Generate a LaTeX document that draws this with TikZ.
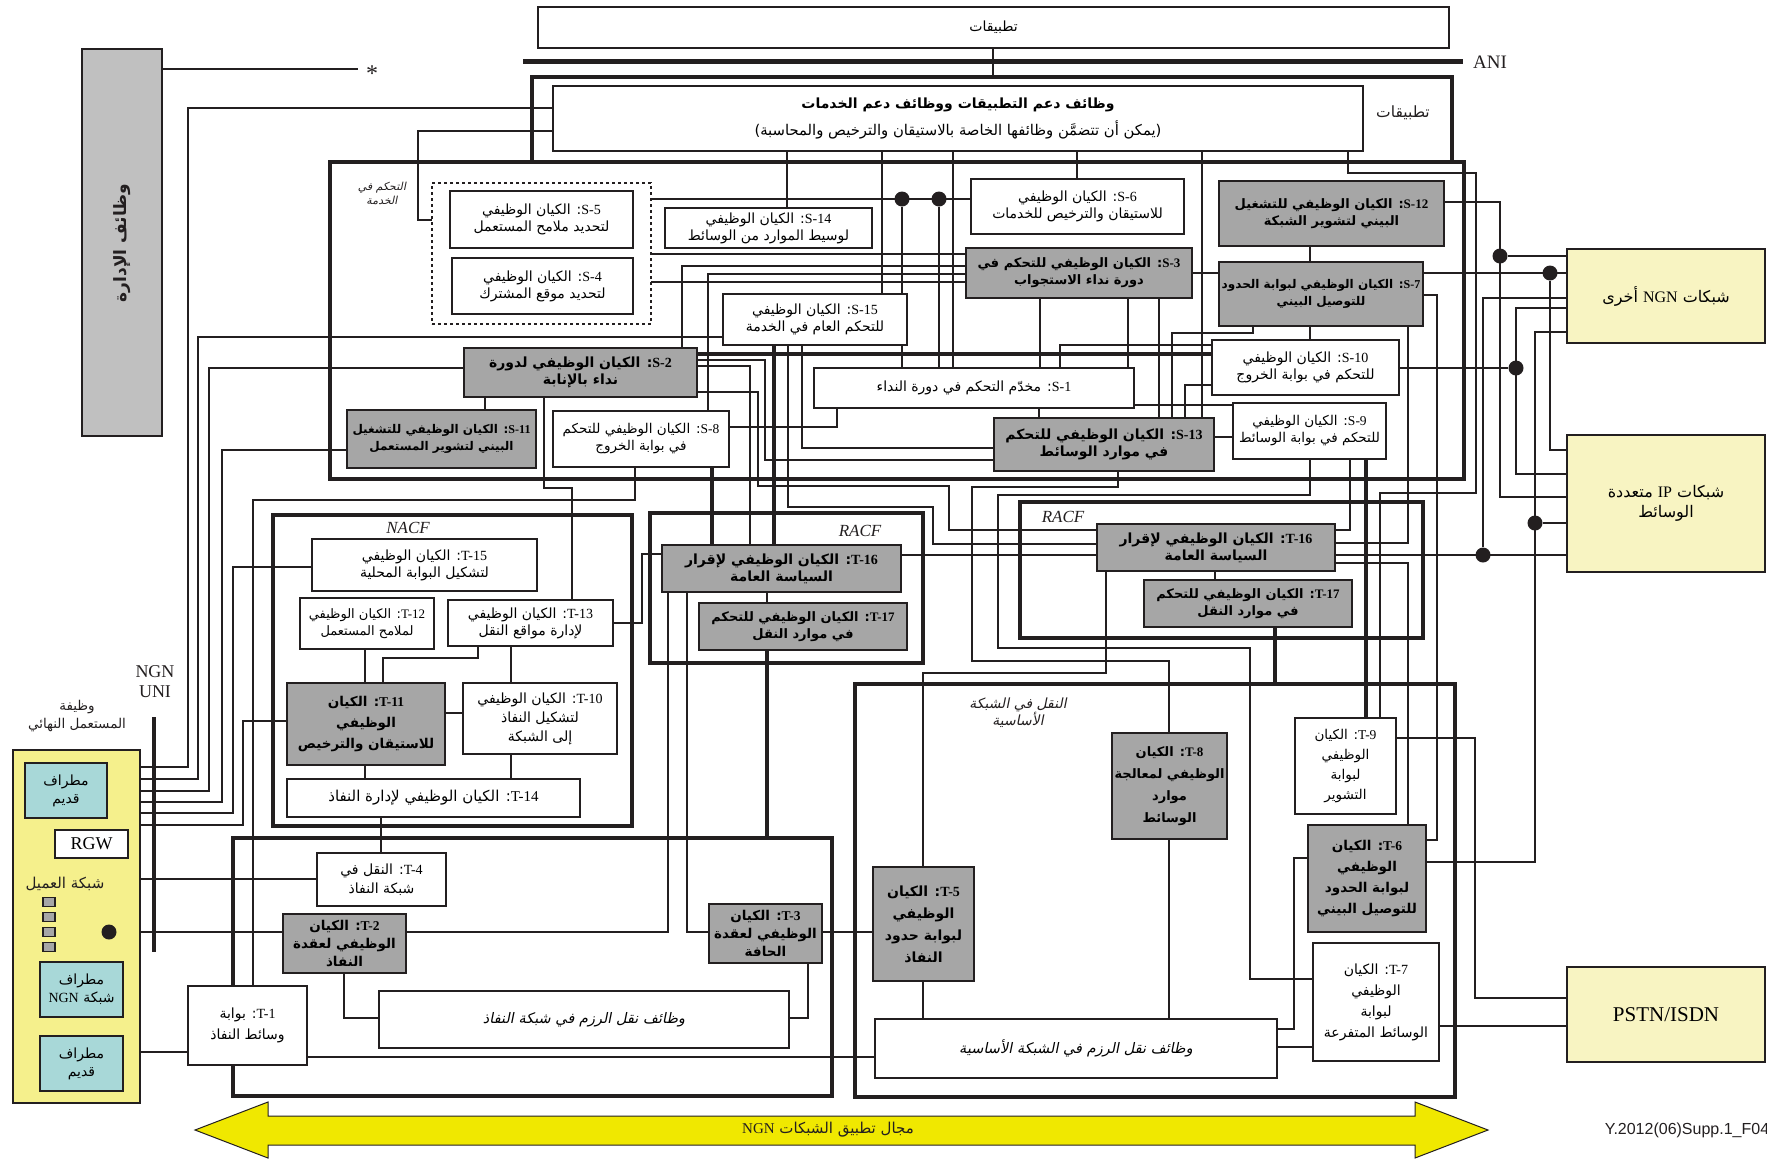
\documentclass[tikz,border=0pt]{standalone}
\usepackage{fontspec}
\setmainfont{Liberation Serif}
\newfontfamily\arabicfont[Script=Arabic]{DejaVu Sans}
\newfontfamily\arabicit[Script=Arabic,FakeSlant=0.2]{DejaVu Sans}
\newfontfamily\figfont{Liberation Sans}
\TeXXeTstate=1
\pgfdeclarelayer{strat}
\pgfdeclarelayer{wires}
\pgfsetlayers{strat,wires,main}
\definecolor{ink}{RGB}{35,31,32}
\definecolor{boxgray}{RGB}{166,166,166}
\definecolor{mgray}{RGB}{192,192,192}
\definecolor{termcyan}{RGB}{168,216,216}
\definecolor{euyel}{RGB}{245,240,140}
\definecolor{netyel}{RGB}{248,244,194}
\definecolor{arryel}{RGB}{240,232,0}
\newcommand\AR[1]{\beginR #1\endR}
\newcommand\LT[1]{\beginL{\rmfamily #1}\endL}
\newcommand\BX[7]{\node[#6, minimum width={#4-#2}, minimum height={#5-#3}] (#1) at ({(#2+#4)/2},{(#3+#5)/2}) {#7};}
\tikzset{
  wbox/.style={draw=ink, fill=white, line width=1.6pt, inner sep=0pt, outer sep=0pt, align=center,
    font=\arabicfont\fontsize{14}{17}\selectfont},
  gbox/.style={wbox, fill=boxgray, font=\arabicfont\bfseries\fontsize{13}{17}\selectfont},
  gtall/.style={wbox, fill=boxgray, font=\arabicfont\bfseries\fontsize{13.5}{21}\selectfont},
  wtall/.style={wbox, font=\arabicfont\fontsize{13.5}{20}\selectfont},
  itbox/.style={wbox, font=\arabicit\fontsize{14.5}{17}\selectfont},
  stratbox/.style={draw=ink, line width=4.5pt, inner sep=0pt, outer sep=0pt},
  termbox/.style={wbox, fill=termcyan, line width=2pt, font=\arabicfont\fontsize{14}{18}\selectfont},
  netbox/.style={wbox, fill=netyel, font=\arabicfont\fontsize{16}{20}\selectfont},
  conn/.style={draw=ink, line width=1.8pt},
  thk/.style={draw=ink, line width=3.6pt},
  jdot/.style={circle, fill=ink, minimum size=15pt, inner sep=0pt},
  sq/.style={draw=ink, fill=boxgray, line width=1.4pt, minimum width=12pt, minimum height=9pt, inner sep=0pt},
  lbl/.style={inner sep=0pt, text=ink},
}
\begin{document}
\begin{tikzpicture}[x=1pt,y=-1pt]
\useasboundingbox (0,0) rectangle (1767,1160);
% ---------- boxes (main layer) ----------
\BX{apps}{538}{7}{1449}{48}{wbox}{\AR{تطبيقات}}
\node[lbl, font=\fontsize{19}{22}\selectfont] (ani) at (1490,62) {ANI};
\coordinate (aniS) at (523,61);
\coordinate (aniE) at (1463,61);
\BX{mgmt}{82}{49}{162}{436}{wbox, fill=mgray}{}
\node[lbl, rotate=90, font=\arabicfont\bfseries\fontsize{17}{20}\selectfont] (mgmtlbl) at (122,243) {\AR{وظائف الإدارة}};
\node[lbl, font=\fontsize{24}{26}\selectfont] (star) at (372,74) {*};
\BX{asf}{553}{86}{1363}{151}{wbox, font=\arabicfont\fontsize{14.8}{27}\selectfont}{\AR{\bfseries\fontsize{14}{27}\selectfont وظائف دعم التطبيقات ووظائف دعم الخدمات}\\\AR{(يمكن أن تتضمَّن وظائفها الخاصة بالاستيقان والترخيص والمحاسبة)}}
\node[lbl, font=\arabicfont\fontsize{15.5}{18}\selectfont] (appllbl) at (1403,113) {\AR{تطبيقات}};
\node[lbl, align=center, font=\arabicit\fontsize{11}{14}\selectfont] (svclbl) at (382,193) {\AR{التحكم في}\\\AR{الخدمة}};
% service stratum
\BX{s5}{450}{191}{633}{248}{wbox}{\AR{\LT{S-5}: الكيان الوظيفي}\\\AR{لتحديد ملامح المستعمل}}
\BX{s4}{452}{258}{633}{314}{wbox}{\AR{\LT{S-4}: الكيان الوظيفي}\\\AR{لتحديد موقع المشترك}}
\BX{s14}{665}{208}{872}{248}{wbox}{\AR{\LT{S-14}: الكيان الوظيفي}\\\AR{لوسيط الموارد من الوسائط}}
\BX{s15}{723}{294}{907}{345}{wbox}{\AR{\LT{S-15}: الكيان الوظيفي}\\\AR{للتحكم العام في الخدمة}}
\BX{s2}{464}{348}{697}{397}{gbox, font=\arabicfont\bfseries\fontsize{14}{17}\selectfont}{\AR{\LT{S-2}: الكيان الوظيفي لدورة}\\\AR{نداء بالإنابة}}
\BX{s6}{971}{179}{1184}{234}{wbox}{\AR{\LT{S-6}: الكيان الوظيفي}\\\AR{للاستيقان والترخيص للخدمات}}
\BX{s3}{966}{248}{1192}{298}{gbox}{\AR{\LT{S-3}: الكيان الوظيفي للتحكم في}\\\AR{دورة نداء الاستجواب}}
\BX{s12}{1219}{181}{1444}{246}{gbox}{\AR{\LT{S-12}: الكيان الوظيفي للتشغيل}\\\AR{البيني لتشوير الشبكة}}
\BX{s7}{1219}{262}{1423}{326}{gbox, font=\arabicfont\bfseries\fontsize{12}{17}\selectfont}{\AR{\LT{S-7}: الكيان الوظيفي لبوابة الحدود}\\\AR{للتوصيل البيني}}
\BX{s10}{1212}{340}{1399}{395}{wbox}{\AR{\LT{S-10}: الكيان الوظيفي}\\\AR{للتحكم في بوابة الخروج}}
\BX{s1}{814}{368}{1134}{408}{wbox}{\AR{\LT{S-1}: مخدّم التحكم في دورة النداء}}
\BX{s9}{1233}{403}{1386}{459}{wbox, font=\arabicfont\fontsize{13.5}{17}\selectfont}{\AR{\LT{S-9}: الكيان الوظيفي}\\\AR{للتحكم في بوابة الوسائط}}
\BX{s13}{994}{418}{1214}{471}{gbox, font=\arabicfont\bfseries\fontsize{14}{17}\selectfont}{\AR{\LT{S-13}: الكيان الوظيفي للتحكم}\\\AR{في موارد الوسائط}}
\BX{s8}{553}{411}{729}{467}{wbox, font=\arabicfont\fontsize{13.5}{17}\selectfont}{\AR{\LT{S-8}: الكيان الوظيفي للتحكم}\\\AR{في بوابة الخروج}}
\BX{s11}{347}{410}{536}{468}{gbox, font=\arabicfont\bfseries\fontsize{12}{17}\selectfont}{\AR{\LT{S-11}: الكيان الوظيفي للتشغيل}\\\AR{البيني لتشوير المستعمل}}
% transport stratum
\node[lbl, font=\itshape\fontsize{17}{20}\selectfont] (nacflbl) at (408,528) {NACF};
\BX{t15}{312}{539}{537}{591}{wbox}{\AR{\LT{T-15}: الكيان الوظيفي}\\\AR{لتشكيل البوابة المحلية}}
\BX{t12}{300}{598}{434}{649}{wbox, font=\arabicfont\fontsize{13}{17}\selectfont}{\AR{\LT{T-12}: الكيان الوظيفي}\\\AR{لملامح المستعمل}}
\BX{t13}{448}{600}{613}{646}{wbox}{\AR{\LT{T-13}: الكيان الوظيفي}\\\AR{لإدارة مواقع النقل}}
\BX{t11}{287}{683}{445}{765}{gbox, font=\arabicfont\bfseries\fontsize{13.5}{21}\selectfont}{\AR{\LT{T-11}: الكيان}\\\AR{الوظيفي}\\\AR{للاستيقان والترخيص}}
\BX{t10}{463}{683}{617}{754}{wbox, font=\arabicfont\fontsize{14}{19}\selectfont}{\AR{\LT{T-10}: الكيان الوظيفي}\\\AR{لتشكيل النفاذ}\\\AR{إلى الشبكة}}
\BX{t14}{287}{779}{580}{817}{wbox, font=\arabicfont\fontsize{15}{17}\selectfont}{\AR{\LT{T-14}: الكيان الوظيفي لإدارة النفاذ}}
\node[lbl, font=\itshape\fontsize{17}{20}\selectfont] (racfLlbl) at (860,531) {RACF};
\BX{t16L}{662}{545}{901}{592}{gbox, font=\arabicfont\bfseries\fontsize{14}{17}\selectfont}{\AR{\LT{T-16}: الكيان الوظيفي لإقرار}\\\AR{السياسة العامة}}
\BX{t17L}{699}{603}{907}{650}{gbox}{\AR{\LT{T-17}: الكيان الوظيفي للتحكم}\\\AR{في موارد النقل}}
\node[lbl, font=\itshape\fontsize{17}{20}\selectfont] (racfRlbl) at (1063,517) {RACF};
\BX{t16R}{1097}{524}{1335}{571}{gbox, font=\arabicfont\bfseries\fontsize{14}{17}\selectfont}{\AR{\LT{T-16}: الكيان الوظيفي لإقرار}\\\AR{السياسة العامة}}
\BX{t17R}{1144}{580}{1352}{627}{gbox}{\AR{\LT{T-17}: الكيان الوظيفي للتحكم}\\\AR{في موارد النقل}}
\node[lbl, align=center, font=\arabicit\fontsize{14}{17}\selectfont] (corelbl) at (1018,713) {\AR{النقل في الشبكة}\\\AR{الأساسية}};
\BX{t8}{1112}{733}{1227}{839}{gtall, font=\arabicfont\bfseries\fontsize{13}{22}\selectfont}{\AR{\LT{T-8}: الكيان}\\\AR{الوظيفي لمعالجة}\\\AR{موارد}\\\AR{الوسائط}}
\BX{t9}{1295}{718}{1396}{814}{wtall}{\AR{\LT{T-9}: الكيان}\\\AR{الوظيفي}\\\AR{لبوابة}\\\AR{التشوير}}
\BX{t6}{1308}{825}{1426}{932}{gtall}{\AR{\LT{T-6}: الكيان}\\\AR{الوظيفي}\\\AR{لبوابة الحدود}\\\AR{للتوصيل البيني}}
\BX{t7}{1313}{943}{1439}{1061}{wtall, font=\arabicfont\fontsize{14}{21}\selectfont}{\AR{\LT{T-7}: الكيان}\\\AR{الوظيفي}\\\AR{لبوابة}\\\AR{الوسائط المتفرعة}}
\BX{t5}{873}{867}{974}{981}{gtall, font=\arabicfont\bfseries\fontsize{14}{22}\selectfont}{\AR{\LT{T-5}: الكيان}\\\AR{الوظيفي}\\\AR{لبوابة حدود}\\\AR{النفاذ}}
\BX{corepkt}{875}{1019}{1277}{1078}{itbox}{\AR{وظائف نقل الرزم في الشبكة الأساسية}}
\BX{accpkt}{379}{991}{789}{1048}{itbox}{\AR{وظائف نقل الرزم في شبكة النفاذ}}
\BX{t3}{709}{904}{822}{963}{gbox, font=\arabicfont\bfseries\fontsize{13.5}{18}\selectfont}{\AR{\LT{T-3}: الكيان}\\\AR{الوظيفي لعقدة}\\\AR{الحافة}}
\BX{t2}{283}{914}{406}{973}{gbox, font=\arabicfont\bfseries\fontsize{13.5}{18}\selectfont}{\AR{\LT{T-2}: الكيان}\\\AR{الوظيفي لعقدة}\\\AR{النفاذ}}
\BX{t4}{317}{853}{446}{906}{wbox, font=\arabicfont\fontsize{14}{19}\selectfont}{\AR{\LT{T-4}: النقل في}\\\AR{شبكة النفاذ}}
\BX{t1}{188}{986}{307}{1065}{wbox, font=\arabicfont\fontsize{14}{21}\selectfont}{\AR{\LT{T-1}: بوابة}\\\AR{وسائط النفاذ}}
% end user
\BX{eu}{13}{750}{140}{1103}{wbox, fill=euyel, line width=2pt}{}
\node[lbl, align=center, font=\arabicfont\fontsize{13.5}{18}\selectfont] (eulbl) at (77,716) {\AR{وظيفة}\\\AR{المستعمل النهائي}};
\node[lbl, align=center, font=\fontsize{18}{20}\selectfont] (unilbl) at (155,682) {NGN\\UNI};
\BX{term1}{25}{763}{107}{818}{termbox}{\AR{مطراف}\\\AR{قديم}}
\BX{rgw}{55}{830}{128}{858}{wbox, line width=2pt, font=\fontsize{18}{20}\selectfont}{RGW}
\node[lbl, font=\arabicfont\fontsize{15}{18}\selectfont] (cnlbl) at (65,884) {\AR{شبكة العميل}};
\node[sq] (sq1) at (49,902) {};
\node[sq] (sq2) at (49,917) {};
\node[sq] (sq3) at (49,932) {};
\node[sq] (sq4) at (49,947) {};
\node[jdot] (cdot) at (109,932) {};
\BX{term2}{40}{962}{123}{1017}{termbox}{\AR{مطراف}\\\AR{شبكة \LT{NGN}}}
\BX{term3}{40}{1036}{123}{1091}{termbox}{\AR{مطراف}\\\AR{قديم}}
\coordinate (uniT) at (154,717);
\coordinate (uniB) at (154,952);
% other networks
\BX{ngn}{1567}{249}{1765}{343}{netbox}{\AR{شبكات \LT{NGN} أخرى}}
\BX{ipn}{1567}{435}{1765}{572}{netbox}{\AR{شبكات \LT{IP} متعددة}\\\AR{الوسائط}}
\BX{pstn}{1567}{967}{1765}{1062}{netbox, font=\fontsize{21}{23}\selectfont}{PSTN/ISDN}
% junction dots
\node[jdot] (d1) at (902,199) {};
\node[jdot] (d2) at (939,199) {};
\node[jdot] (d3) at (1500,256) {};
\node[jdot] (d4) at (1550,273) {};
\node[jdot] (d5) at (1516,368) {};
\node[jdot] (d6) at (1535,523) {};
\node[jdot] (d7) at (1483,555) {};
% scope arrow
\fill[arryel, draw=ink, line width=1pt] (195,1130) -- (268,1102) -- (268,1116) -- (1415,1116) -- (1415,1102) -- (1488,1130) -- (1415,1158) -- (1415,1145) -- (268,1145) -- (268,1158) -- cycle;
\node[lbl, font=\arabicfont\fontsize{15}{18}\selectfont] (scope) at (828,1130) {\AR{مجال تطبيق الشبكات \LT{NGN}}};
\node[lbl, font=\figfont\fontsize{16}{18}\selectfont] (figid) at (1687,1130) {Y.2012(06)Supp.1\_F04};

% ---------- strata (back layer) ----------
\begin{pgfonlayer}{strat}
\BX{appl}{532}{77}{1452}{162}{stratbox}{}
\BX{svc}{330}{162}{1464}{479}{stratbox}{}
\BX{dash}{432}{183}{651}{324}{draw=ink, dashed, line width=1.8pt, inner sep=0pt, outer sep=0pt}{}
\BX{nacf}{273}{515}{632}{826}{stratbox}{}
\BX{racfL}{650}{513}{923}{663}{stratbox}{}
\BX{racfR}{1020}{502}{1423}{638}{stratbox}{}
\BX{core}{855}{684}{1455}{1097}{stratbox}{}
\BX{acc}{233}{838}{832}{1096}{stratbox}{}
\draw[line width=5pt, draw=ink] (aniS) -- (aniE);
\draw[line width=4.5pt, draw=ink] (uniT) -- (uniB);
\end{pgfonlayer}

% ---------- connectors (wire layer) ----------
\begin{pgfonlayer}{wires}
\draw[conn] (mgmt.east |- 0,69) -- (358,69);
\draw[conn] (apps.south -| 993,0) -- (appl.north -| 993,0);
% end user links
\draw[conn] (asf.west |- 0,108) -- (188,108) -- (188,767) -- (eu.east |- 0,767);
\draw[conn] (s15.west |- 0,337) -- (198,337) -- (198,779) -- (eu.east |- 0,779);
\draw[conn] (s2.west |- 0,368) -- (209,368) -- (209,791) -- (eu.east |- 0,791);
\draw[conn] (s11.west |- 0,450) -- (222,450) -- (222,802) -- (eu.east |- 0,802);
\draw[conn] (t15.west |- 0,567) -- (233,567) -- (233,813) -- (eu.east |- 0,813);
\draw[conn] (t11.west |- 0,721) -- (243,721) -- (243,825) -- (eu.east |- 0,825);
\draw[conn] (s8.south -| 635,0) -- (635,500) -- (253,500) -- (t1.north -| 253,0);
\draw[conn] (eu.east |- 0,879) -- (t4.west |- 0,879);
\draw[conn] (cdot) -- (t2.west |- 0,932);
\draw[conn] (term3.east |- 0,1052) -- (t1.west |- 0,1052);
\draw[conn] (term1.south -| 69,0) -- (rgw.north -| 69,0);
\draw[conn] (rgw.south -| 109,0) -- (term2.north -| 109,0);
\draw[line width=2.6pt, draw=ink] (sq1.east) -- (85,902) -- (85,947) -- (sq4.east);
\draw[line width=2.6pt, draw=ink] (sq2.east) -- (85,917);
\draw[line width=2.6pt, draw=ink] (sq3.east) -- (cdot);
% service stratum links
\draw[conn] (asf.west |- 0,131) -- (418,131) -- (418,220) -- (dash.west |- 0,220);
\draw[conn] (asf.south -| 787,0) -- (s14.north -| 787,0);
\draw[conn] (asf.south -| 882,0) -- (s15.north -| 882,0);
\draw[conn] (asf.south -| 953,0) -- (s1.north -| 953,0);
\draw[conn] (asf.south -| 1077,0) -- (s6.north -| 1077,0);
\draw[conn] (asf.south -| 1202,0) -- (s13.north -| 1202,0);
\draw[conn] (dash.east |- 0,199) -- (s6.west |- 0,199);
\draw[conn] (d1) -- (s1.north -| d1);
\draw[conn] (d2) -- (s1.north -| d2);
\draw[conn] (dash.east |- 0,254) -- (s3.west |- 0,254);
\draw[conn] (s2.north -| 682,0) -- (682,266) -- (s3.west |- 0,266);
\draw[conn] (s8.north -| 708,0) -- (708,274) -- (s3.west |- 0,274);
\draw[conn] (dash.east |- 0,282) -- (s3.west |- 0,282);
\draw[conn] (s3.east |- 0,273) -- (s7.west |- 0,273);
\draw[conn] (s12.south -| 1310,0) -- (s7.north -| 1310,0);
\draw[conn] (s7.south -| 1310,0) -- (s10.north -| 1310,0);
\draw[thk] (s2.east |- 0,354) -- (s10.west |- 0,354);
\draw[conn] (s3.south -| 1040,0) -- (s1.north -| 1040,0);
\draw[conn] (s3.south -| 1128,0) -- (s1.north -| 1128,0);
\draw[conn] (s3.south -| 1159,0) -- (s13.north -| 1159,0);
\draw[conn] (s7.south -| 1253,0) -- (1253,333) -- (1172,333) -- (s13.north -| 1172,0);
\draw[conn] (s10.west |- 0,385) -- (1185,385) -- (s13.north -| 1185,0);
\draw[conn] (s10.west |- 0,345) -- (1060,345) -- (s1.north -| 1060,0);
\draw[conn] (s1.east |- 0,405) -- (s9.west |- 0,405);
\draw[conn] (s2.south -| 485,0) -- (s11.north -| 485,0);
\draw[conn] (s2.south -| 544,0) -- (544,488) -- (572,488) -- (t13.north -| 572,0);
\draw[thk] (s8.south -| 712,0) -- (t16L.north -| 712,0);
\draw[conn] (s8.east |- 0,427) -- (837,427) -- (s1.south -| 837,0);
\draw[thk] (s15.south -| 774,0) -- (t16L.north -| 774,0);
\draw[conn] (s15.south -| 788,0) -- (788,507) -- (933,507) -- (933,544) -- (t16R.west |- 0,544);
\draw[conn] (s15.south -| 802,0) -- (802,448) -- (s13.west |- 0,448);
\draw[conn] (s2.east |- 0,366) -- (750,366) -- (t16L.north -| 750,0);
\draw[conn] (s2.east |- 0,392) -- (758,392) -- (758,486) -- (949,486) -- (949,530) -- (t16R.west |- 0,530);
\draw[conn] (s2.east |- 0,360) -- (765,360) -- (765,460) -- (s13.west |- 0,460);
\draw[conn] (s13.north -| 1039,0) -- (s1.south -| 1039,0);
\draw[conn] (s13.east |- 0,437) -- (s9.west |- 0,437);
\draw[conn] (s13.south -| 1118,0) -- (1118,487) -- (972,487) -- (972,661) -- (1169,661) -- (t8.north -| 1169,0);
\draw[conn] (s9.south -| 1310,0) -- (1310,495) -- (998,495) -- (998,648) -- (1250,648) -- (1250,979) -- (t7.west |- 0,979);
% transport links
\draw[conn] (t16L.west |- 0,554) -- (642,554) -- (642,623) -- (t13.east |- 0,623);
\draw[conn] (t16L.south -| 668,0) -- (668,932) -- (t2.east |- 0,932);
\draw[conn] (t16L.south -| 687,0) -- (687,932) -- (t3.west |- 0,932);
\draw[conn] (t16L.south -| 767,0) -- (t17L.north -| 767,0);
\draw[thk] (t17L.south -| 767,0) -- (acc.north -| 767,0);
\draw[conn] (t16L.east |- 0,555) -- (t16R.west |- 0,555);
\draw[conn] (t3.east |- 0,932) -- (t5.west |- 0,932);
\draw[conn] (t3.south -| 808,0) -- (808,1018) -- (accpkt.east |- 0,1018);
\draw[conn] (t2.south -| 344,0) -- (344,1018) -- (accpkt.west |- 0,1018);
\draw[conn] (t1.east |- 0,1057) -- (corepkt.west |- 0,1057);
\draw[conn] (t12.south -| 365,0) -- (t11.north -| 365,0);
\draw[conn] (t11.south -| 365,0) -- (t14.north -| 365,0);
\draw[conn] (t13.south -| 478,0) -- (478,658) -- (383,658) -- (t11.north -| 383,0);
\draw[conn] (t13.south -| 511,0) -- (t10.north -| 511,0);
\draw[conn] (t10.west |- 0,713) -- (t11.east |- 0,713);
\draw[conn] (t10.south -| 511,0) -- (t14.north -| 511,0);
\draw[conn] (t14.south -| 381,0) -- (t4.north -| 381,0);
\draw[conn] (t16R.south -| 1215,0) -- (t17R.north -| 1215,0);
\draw[thk] (t17R.south -| 1275,0) -- (core.north -| 1275,0);
\draw[conn] (t16R.south -| 1106,0) -- (1106,673) -- (923,673) -- (t5.north -| 923,0);
\draw[conn] (t8.south -| 1169,0) -- (corepkt.north -| 1169,0);
\draw[conn] (t5.south -| 923,0) -- (corepkt.north -| 923,0);
\draw[conn] (t6.west |- 0,858) -- (1294,858) -- (1294,1029) -- (corepkt.east |- 0,1029);
\draw[conn] (t7.west |- 0,1047) -- (corepkt.east |- 0,1047);
% right side
\draw[conn] (asf.south -| 1348,0) -- (1348,173) -- (1476,173) -- (1476,493) -- (1380,493) -- (t9.north -| 1380,0);
\draw[conn] (s12.east |- 0,202) -- (1500,202) -- (1500,497) -- (ipn.west |- 0,497);
\draw[conn] (d3) -- (ngn.west |- d3);
\draw[conn] (s7.east |- 0,273) -- (ngn.west |- 0,273);
\draw[conn] (d4) -- (1550,450) -- (ipn.west |- 0,450);
\draw[conn] (s7.east |- 0,295) -- (1437,295) -- (1437,840) -- (t6.east |- 0,840);
\draw[conn] (ngn.west |- 0,298) -- (1483,298) -- (d7);
\draw[conn] (t16R.east |- d7) -- (ipn.west |- d7);
\draw[conn] (ngn.west |- 0,308) -- (1516,308) -- (1516,474) -- (ipn.west |- 0,474);
\draw[conn] (s10.east |- d5) -- (d5);
\draw[conn] (ngn.west |- 0,332) -- (1535,332) -- (1535,862) -- (t6.east |- 0,862);
\draw[conn] (d6) -- (ipn.west |- d6);
\draw[conn] (s7.south -| 1408,0) -- (1408,543) -- (t16R.east |- 0,543);
\draw[conn] (t16R.east |- 0,563) -- (1408,563) -- (t6.north -| 1408,0);
\draw[conn] (s9.south -| 1350,0) -- (1350,530) -- (t16R.east |- 0,530);
\draw[thk] (s9.south -| 1366,0) -- (t9.north -| 1366,0);
\draw[conn] (t9.east |- 0,738) -- (1475,738) -- (1475,998) -- (pstn.west |- 0,998);
\draw[conn] (t7.east |- 0,1026) -- (pstn.west |- 0,1026);
\end{pgfonlayer}
\end{tikzpicture}
\end{document}
